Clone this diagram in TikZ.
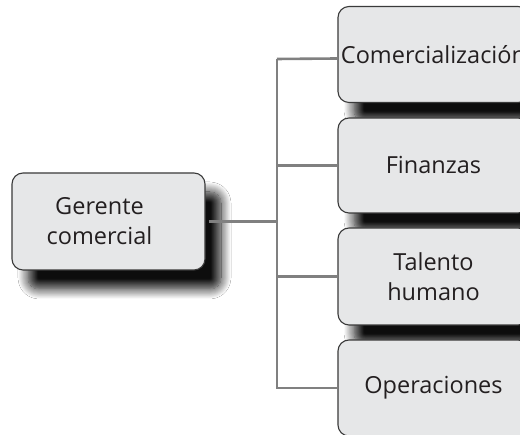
\documentclass[tikz,border=0pt]{standalone}
\usepackage{fontspec}
\setmainfont{Open Sans}
\usetikzlibrary{shadows.blur}
\definecolor{boxfill}{HTML}{E6E7E8}
\definecolor{boxline}{HTML}{3A3A3A}
\definecolor{txt}{HTML}{231F20}
\definecolor{conncol}{HTML}{808080}
\begin{document}
\begin{tikzpicture}[x=1pt,y=1pt]
\tikzset{
  box/.style={draw=boxline, line width=1.1pt, fill=boxfill, rounded corners=11pt,
    minimum width=193pt, inner sep=0pt,
    blur shadow={shadow xshift=16pt, shadow yshift=-19pt, shadow blur radius=10pt, shadow blur steps=12, shadow opacity=95},
    font=\fontsize{23.5}{30}\selectfont, text=txt, align=center},
  lbl/.style={font=\fontsize{23.5}{30}\selectfont, text=txt, align=center, inner sep=0pt},
  conn/.style={draw=conncol, line width=2.6pt}
}
\useasboundingbox (0,0) rectangle (520,435);
\clip (0,0) rectangle (520,435);
\fill[white] (0,0) rectangle (520,435);
\node[box, minimum height=97pt] (g) at (108.5,213.5) {};
\node[lbl] (gt) at ([xshift=-9pt]g.center) {Gerente\\comercial};
\node[box, minimum width=191pt, minimum height=96pt] (b1) at (433.5,380.5) {Comercialización};
\node[box, minimum width=191pt, minimum height=95pt] (b2) at (433.5,269.5) {Finanzas};
\node[box, minimum width=191pt, minimum height=97pt] (b3) at (433.5,158.5) {Talento\\humano};
\node[box, minimum width=191pt, minimum height=96pt] (b4) at (433.5,47) {Operaciones};
\coordinate (top) at (277,376);
\draw[conn] (top) -- ([yshift=-4pt]b1.west);
\draw[conn] (top) |- (b4.west);
\draw[conn, shorten <=3pt] (g.east) -- (g.east -| top);
\draw[conn] (b2.west -| top) -- (b2.west);
\draw[conn] (b3.west -| top) -- (b3.west);
\end{tikzpicture}
\end{document}
